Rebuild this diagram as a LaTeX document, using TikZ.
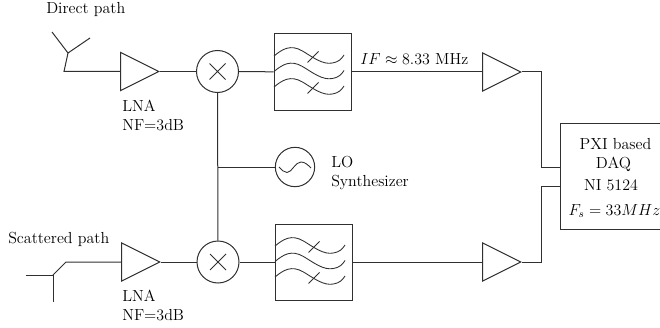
\documentclass[tikz,border=0pt]{standalone}
\usetikzlibrary{shapes.geometric,calc}
\definecolor{ink}{HTML}{303030}
\newcommand{\fwaves}[1]{%
  \begin{scope}[shift={(#1)},wave/.style={line width=0.65pt,draw=ink}]
    \foreach \yy in {-15.5,0,15.5}{
      \draw[wave] (-38.5,\yy) .. controls (-30,{\yy-7}) and (-22,{\yy-12}) .. (-10,{\yy-5})
        .. controls (0,{\yy+1}) and (10,{\yy+9}) .. (20,{\yy+7})
        .. controls (26,{\yy+6}) and (29,{\yy+3}) .. (31.5,{\yy-1});
    }
    \draw[wave] (-5,-9) -- (6,-20);
    \draw[wave] (-5,22) -- (6,11);
  \end{scope}}
\tikzset{
  x=0.75pt,y=-0.75pt,
  wire/.style={line width=0.75pt,draw=ink},
  amp/.style={isosceles triangle,isosceles triangle stretches,draw=ink,line width=0.75pt,
    minimum width=28.5pt,minimum height=28.5pt,inner sep=0pt,anchor=apex,shape border rotate=0},
  mixer/.style={circle,draw=ink,line width=0.75pt,minimum size=31.5pt,inner sep=0pt,
    path picture={\draw[line width=0.65pt,draw=ink]
      ($(path picture bounding box.center)+(-8,-8)$) -- ($(path picture bounding box.center)+(8,8)$)
      ($(path picture bounding box.center)+(-8,8)$) -- ($(path picture bounding box.center)+(8,-8)$);}},
  osc/.style={circle,draw=ink,line width=0.75pt,minimum size=29.5pt,inner sep=0pt},
  filt/.style={rectangle,draw=ink,line width=0.75pt,minimum width=57.75pt,minimum height=57pt,inner sep=0pt},
  daqbox/.style={rectangle,draw=ink,line width=0.75pt,minimum width=84pt,minimum height=79pt,inner sep=0pt},
  lbl/.style={anchor=west,inner sep=0pt,text=black,font=\fontsize{12}{14}\selectfont},
  ctr/.style={anchor=center,inner sep=0pt,text=black,font=\fontsize{12}{14}\selectfont},
}
\begin{document}
\begin{tikzpicture}
\useasboundingbox (0,0) rectangle (660,328);
% antennas
\coordinate (a1l) at (52,32);
\coordinate (a1r) at (90,38);
\coordinate (a1j) at (68,53);
\coordinate (a1b) at (64,71.5);
\coordinate (a2l) at (26,275);
\coordinate (a2j) at (53,275);
\coordinate (a2d) at (53,302);
\coordinate (a2k) at (66,262);
% blocks
\node[amp] (lna1) at (160,71.5) {};
\node[mixer] (mix1) at (217.5,71.5) {};
\node[filt] (f1) at (312.5,72) {};
\node[amp] (amp1) at (522,72) {};
\node[amp] (lna2) at (161,262) {};
\node[mixer] (mix2) at (218,262) {};
\node[filt] (f2) at (313.5,262) {};
\node[amp] (amp2) at (522,262) {};
\node[osc] (lo) at (295,167) {};
\node[daqbox] (daq) at (616,176.5) {};
\fwaves{312.5,71.5}
\fwaves{313.5,261.5}
\draw[line width=0.65pt,draw=ink] (279,167) .. controls (282,170) and (284,172.5) .. (287,172.5)
  .. controls (292,172.5) and (295,162) .. (301,162)
  .. controls (305,162) and (308,165) .. (311,168);
% antenna wires
\draw[wire] (a1l) -- (a1j) -- (a1r);
\draw[wire] (a1j) -- (a1b) -- (lna1.lower side);
\draw[wire] (a2l) -- (a2j) -- (a2d);
\draw[wire] (a2j) -- (a2k) -- (lna2.lower side);
% signal wires
\draw[wire] (lna1.apex) -- (mix1);
\draw[wire] (mix1) -- (f1);
\draw[wire] (f1) -- (amp1.lower side);
\draw[wire] (lna2.apex) -- (mix2);
\draw[wire] (mix2) -- (f2);
\draw[wire] (f2) -- (amp2.lower side);
\draw[wire] (mix1) -- (mix2);
\draw[wire] (lo) -- (lo -| mix1);
\coordinate (d1) at (daq.west |- 0,167);
\coordinate (d2) at (daq.west |- 0,186);
\draw[wire] (amp1.apex) -| (541,167) -- (d1);
\draw[wire] (amp2.apex) -| (541,186) -- (d2);
% labels
\node[lbl] (t1) at (46,10) {Direct path};
\node[lbl] (t2) at (8,239) {Scattered path};
\node[lbl] (t3) at (122,106) {LNA};
\node[lbl] (t4) at (122,125) {NF=3dB};
\node[lbl] (t5) at (122,296) {LNA};
\node[lbl] (t6) at (122,315) {NF=3dB};
\node[lbl] (t7) at (331,162) {LO};
\node[lbl] (t8) at (331,182) {Synthesizer};
\node[lbl] (t9) at (360,59) {$IF\approx 8.33$ MHz};
\node[ctr] (t10) at (615.5,144) {PXI based};
\node[ctr] (t11) at (613.5,164) {DAQ};
\node[ctr] (t12) at (611,185) {NI 5124};
\node[ctr] (t13) at (614.5,211) {$F_s=33MHz$};
\end{tikzpicture}
\end{document}
